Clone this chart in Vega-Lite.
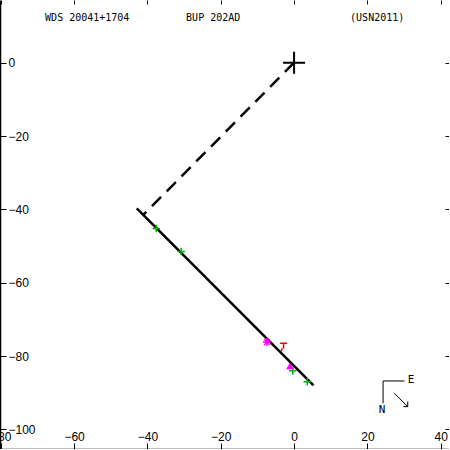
{
  "$schema": "https://vega.github.io/schema/vega-lite/v6.json",
  "width": 449,
  "height": 449,
  "padding": 0,
  "autosize": {"type": "none"},
  "background": "white",
  "config": {
    "view": {"stroke": null},
    "axis": {"grid": false, "labelFont": "Liberation Sans", "labelFontSize": 12, "labelColor": "black", "domainColor": "black", "tickColor": "black", "title": null, "labelFlush": false, "labelOverlap": false, "labelBound": false}
  },
  "datasets": {
    "segments": [
      {"kind": "orbit", "x": -42.9, "y": -39.7, "x2": 5.3, "y2": -88.0},
      {"kind": "node", "x": 0, "y": 0, "x2": -41.2, "y2": -41.6},
      {"kind": "oc", "x": -3.2, "y": -77.9, "x2": -3.55, "y2": -78.8},
      {"kind": "compass", "x": 24.27, "y": -86.8, "x2": 30.1, "y2": -86.8},
      {"kind": "compass", "x": 24.27, "y": -86.8, "x2": 24.27, "y2": -92.9},
      {"kind": "compass", "x": 27.35, "y": -90.15, "x2": 31.0, "y2": -93.8},
      {"kind": "compass", "x": 31.0, "y": -92.4, "x2": 31.0, "y2": -93.8},
      {"kind": "compass", "x": 29.8, "y": -93.8, "x2": 31.0, "y2": -93.8}
    ],
    "points": [
      {"kind": "primary", "x": 0, "y": 0},
      {"kind": "green", "x": -37.6, "y": -45.2},
      {"kind": "green", "x": -30.8, "y": -51.5},
      {"kind": "green", "x": -0.35, "y": -84.0},
      {"kind": "green", "x": 3.6, "y": -87.0},
      {"kind": "asterisk", "x": -7.4, "y": -76.2},
      {"kind": "tee", "x": -2.86, "y": -77.2},
      {"kind": "triangle", "x": -1.1, "y": -82.7}
    ],
    "labels": [
      {"kind": "header", "x": -67.9, "y": 12.2, "text": "WDS 20041+1704"},
      {"kind": "header", "x": -29.45, "y": 12.2, "text": "BUP 202AD"},
      {"kind": "header", "x": 15.27, "y": 12.2, "text": "(USN2011)"},
      {"kind": "compass", "x": 31.9, "y": -86.5, "text": "E"},
      {"kind": "compass", "x": 24.0, "y": -94.7, "text": "N"}
    ]
  },
  "encoding": {
    "x": {"field": "x", "type": "quantitative", "scale": {"domain": [-80.2, 42.25], "nice": false, "zero": false}, "axis": null},
    "y": {"field": "y", "type": "quantitative", "scale": {"domain": [-105.35, 17.1], "nice": false, "zero": false}, "axis": null}
  },
  "resolve": {"axis": {"x": "independent", "y": "independent"}},
  "layer": [
    {
      "data": {"name": "segments"},
      "transform": [{"filter": "datum.kind == 'orbit'"}],
      "mark": {"type": "rule", "color": "black", "strokeWidth": 2.5},
      "encoding": {
        "x": {"field": "x", "type": "quantitative", "scale": {"domain": [-80.2, 42.25], "nice": false, "zero": false},
          "axis": {"orient": "bottom", "values": [-80, -60, -40, -20, 0, 20, 40], "tickSize": -6, "labelPadding": -3, "labelBaseline": "alphabetic", "labelAlign": "center", "domainWidth": 1.5}},
        "y": {"field": "y", "type": "quantitative", "scale": {"domain": [-105.35, 17.1], "nice": false, "zero": false},
          "axis": {"orient": "left", "values": [-100, -80, -60, -40, -20, 0], "tickSize": -6, "labelPadding": -2, "labelAlign": "left", "labelBaseline": "middle", "domainWidth": 1.5}},
        "x2": {"field": "x2"},
        "y2": {"field": "y2"}
      }
    },
    {
      "data": {"name": "segments"},
      "transform": [{"filter": "datum.kind == 'node'"}],
      "mark": {"type": "rule", "color": "black", "strokeWidth": 2.5, "strokeDash": [13, 8]},
      "encoding": {
        "x": {"field": "x", "type": "quantitative", "scale": {"domain": [-80.2, 42.25], "nice": false, "zero": false},
          "axis": {"orient": "top", "values": [-80, -60, -40, -20, 0, 20, 40], "tickSize": -4, "labels": false, "domain": false}},
        "y": {"field": "y", "type": "quantitative", "scale": {"domain": [-105.35, 17.1], "nice": false, "zero": false},
          "axis": {"orient": "right", "values": [-100, -80, -60, -40, -20, 0], "tickSize": -4, "labels": false, "domain": false}},
        "x2": {"field": "x2"},
        "y2": {"field": "y2"}
      }
    },
    {
      "data": {"name": "segments"},
      "transform": [{"filter": "datum.kind == 'oc'"}],
      "mark": {"type": "rule", "color": "#ee0000", "strokeWidth": 1.5},
      "encoding": {"x2": {"field": "x2"}, "y2": {"field": "y2"}}
    },
    {
      "data": {"name": "segments"},
      "transform": [{"filter": "datum.kind == 'compass'"}],
      "mark": {"type": "rule", "color": "black", "strokeWidth": 1},
      "encoding": {"x2": {"field": "x2"}, "y2": {"field": "y2"}}
    },
    {
      "data": {"name": "points"},
      "transform": [{"filter": "datum.kind == 'primary'"}],
      "mark": {"type": "point", "shape": "M-1,0H1M0,-1V1", "size": 484, "stroke": "black", "strokeWidth": 2, "filled": false, "opacity": 1}
    },
    {
      "data": {"name": "points"},
      "transform": [{"filter": "datum.kind == 'green'"}],
      "mark": {"type": "point", "shape": "M-1,0H1M0,-1V1", "size": 56, "stroke": "#00b000", "strokeWidth": 1.5, "filled": false, "opacity": 1}
    },
    {
      "data": {"name": "points"},
      "transform": [{"filter": "datum.kind == 'asterisk'"}],
      "mark": {"type": "point", "shape": "M-1,0H1M0,-1V1M-0.7,-0.7L0.7,0.7M-0.7,0.7L0.7,-0.7", "size": 64, "stroke": "#ff00ff", "strokeWidth": 1.5, "filled": false, "opacity": 1}
    },
    {
      "data": {"name": "points"},
      "transform": [{"filter": "datum.kind == 'tee'"}],
      "mark": {"type": "point", "shape": "M-1,-0.7H1M0,-0.7V0.8", "size": 49, "stroke": "#ee0000", "strokeWidth": 1.5, "filled": false, "opacity": 1}
    },
    {
      "data": {"name": "points"},
      "transform": [{"filter": "datum.kind == 'triangle'"}],
      "mark": {"type": "point", "shape": "triangle-up", "size": 60, "fill": "#ff00ff", "filled": true, "stroke": null, "opacity": 1}
    },
    {
      "data": {"name": "labels"},
      "transform": [{"filter": "datum.kind == 'header'"}],
      "mark": {"type": "text", "font": "DejaVu Sans Mono", "fontSize": 10, "align": "left", "baseline": "middle", "color": "black"},
      "encoding": {"text": {"field": "text"}}
    },
    {
      "data": {"name": "labels"},
      "transform": [{"filter": "datum.kind == 'compass'"}],
      "mark": {"type": "text", "font": "DejaVu Sans Mono", "fontSize": 11, "align": "center", "baseline": "middle", "color": "black"},
      "encoding": {"text": {"field": "text"}}
    }
  ]
}
